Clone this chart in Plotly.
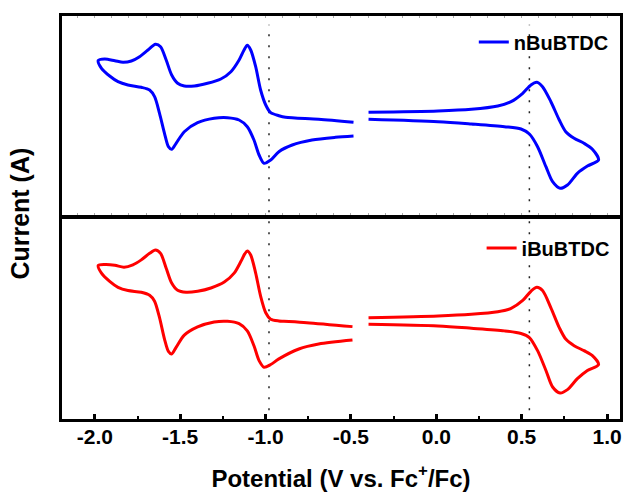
import plotly.graph_objects as go

# ---------------- data (arbitrary current units) -------------
# nBuBTDC, cathodic region (-0.5 -> -2.0 -> -0.5)
n_left_v = [-0.485, -0.689, -0.883, -0.922, -0.970, -0.999, -1.029, -1.058, -1.087, -1.107,
            -1.126, -1.155, -1.203, -1.262, -1.340, -1.417, -1.476, -1.515, -1.550, -1.582,
            -1.615, -1.645, -1.689, -1.738, -1.786, -1.835, -1.883, -1.942, -1.980,
            -1.961, -1.913, -1.864, -1.806, -1.728, -1.679, -1.650, -1.621, -1.592, -1.569,
            -1.550, -1.524, -1.476, -1.398, -1.301, -1.223, -1.155, -1.107, -1.068, -1.038,
            -1.009, -0.970, -0.922, -0.844, -0.728, -0.591, -0.485]
n_left_i = [-0.63, -0.33, -0.13, 0.03, 0.33, 1.10, 2.60, 4.93, 6.60, 7.07,
            6.60, 5.60, 4.43, 3.70, 3.27, 3.00, 3.00, 3.27, 4.10, 5.60,
            6.93, 7.17, 6.60, 5.93, 5.50, 5.37, 5.53, 5.70, 5.55,
            4.77, 4.00, 3.43, 3.10, 2.87, 2.60, 1.93, 0.27, -1.73, -3.07,
            -3.33, -2.73, -1.57, -0.67, -0.23, -0.17, -0.40, -1.07, -2.40, -3.90,
            -4.73, -4.40, -3.57, -2.90, -2.40, -2.13, -2.00]
# nBuBTDC, anodic region (-0.4 -> 0.95 -> -0.4)
n_right_v = [-0.397, 0.010, 0.205, 0.360, 0.438, 0.506, 0.554, 0.589, 0.622, 0.671,
             0.720, 0.758, 0.807, 0.865, 0.914, 0.950,
             0.885, 0.826, 0.768, 0.725, 0.681, 0.642, 0.593, 0.545, 0.496, 0.399,
             0.205, 0.010, -0.397]
n_right_i = [0.37, 0.50, 0.67, 1.00, 1.43, 2.27, 3.10, 3.37, 2.93, 1.43,
             -0.40, -1.57, -2.23, -2.73, -3.33, -4.40,
             -5.00, -5.73, -6.90, -7.23, -6.57, -5.07, -3.07, -1.80, -1.30, -1.07,
             -0.80, -0.57, -0.33]

# iBuBTDC, cathodic region
i_left_v = [-0.491, -0.759, -0.893, -0.922, -0.970, -0.999, -1.029, -1.058, -1.087, -1.107,
            -1.122, -1.145, -1.184, -1.242, -1.320, -1.398, -1.466, -1.515, -1.550, -1.582,
            -1.615, -1.645, -1.679, -1.728, -1.777, -1.829, -1.883, -1.942, -1.980,
            -1.961, -1.913, -1.864, -1.806, -1.728, -1.679, -1.650, -1.621, -1.592, -1.569,
            -1.550, -1.524, -1.476, -1.398, -1.301, -1.223, -1.155, -1.107, -1.068, -1.038,
            -1.009, -0.970, -0.922, -0.805, -0.689, -0.491]
i_left_i = [-0.57, -0.17, -0.03, 0.00, 0.17, 0.83, 2.50, 4.83, 6.67, 7.07,
            6.77, 6.00, 4.83, 3.93, 3.33, 3.00, 2.90, 3.10, 3.83, 5.33,
            6.83, 7.17, 6.83, 6.17, 5.67, 5.43, 5.63, 5.70, 5.60,
            4.83, 4.00, 3.40, 3.07, 2.90, 2.60, 2.00, 0.33, -1.83, -3.07,
            -3.33, -2.67, -1.43, -0.60, -0.10, -0.03, -0.27, -1.00, -2.50, -4.00,
            -4.67, -4.40, -3.83, -2.83, -2.33, -1.93]
# iBuBTDC, anodic region
i_right_v = [-0.397, 0.010, 0.205, 0.360, 0.438, 0.506, 0.554, 0.589, 0.622, 0.671,
             0.720, 0.758, 0.807, 0.865, 0.914, 0.950,
             0.885, 0.826, 0.768, 0.725, 0.681, 0.642, 0.593, 0.545, 0.496, 0.399,
             0.205, 0.010, -0.397]
i_right_i = [0.33, 0.50, 0.67, 0.93, 1.27, 2.07, 3.00, 3.40, 3.07, 1.33,
             -0.67, -1.83, -2.50, -3.00, -3.50, -4.40,
             -5.00, -5.83, -6.93, -7.27, -6.67, -5.00, -3.00, -1.67, -1.27, -1.00,
             -0.73, -0.50, -0.33]

ref_lines = [-0.98, 0.545]          # dotted reference potentials (V)
x_ticks = [-2.0, -1.5, -1.0, -0.5, 0.0, 0.5, 1.0]
x_tick_text = ["-2.0", "-1.5", "-1.0", "-0.5", "0.0", "0.5", "1.0"]
names = ["nBuBTDC", "iBuBTDC"]
colors = ["#0000FF", "#FF0000"]

# ---------------- figure ----------------
FONT = "Liberation Sans, Arial, sans-serif"
fig = go.Figure()

fig.add_trace(go.Scatter(
    x=n_left_v + [None] + n_right_v, y=n_left_i + [None] + n_right_i,
    mode="lines", name=names[0], xaxis="x", yaxis="y", legend="legend",
    line=dict(color=colors[0], width=3, shape="spline", smoothing=0.8),
    connectgaps=False))
fig.add_trace(go.Scatter(
    x=i_left_v + [None] + i_right_v, y=i_left_i + [None] + i_right_i,
    mode="lines", name=names[1], xaxis="x2", yaxis="y2", legend="legend2",
    line=dict(color=colors[1], width=3, shape="spline", smoothing=0.8),
    connectgaps=False))

for xv in ref_lines:
    fig.add_shape(type="line", xref="x2", yref="paper", x0=xv, x1=xv, y0=0.022, y1=0.978,
                  line=dict(color="#222222", width=1.5, dash="2px,9px"), layer="below")

xr = [-2.1922, 1.0757]
tick_font = dict(family=FONT, size=21, color="black", weight="bold")

fig.update_layout(
    width=627, height=492,
    margin=dict(l=62, r=4, t=16, b=73),
    paper_bgcolor="white", plot_bgcolor="white",
    showlegend=True,
    xaxis=dict(domain=[0, 1], anchor="y", range=xr, showgrid=False, zeroline=False,
               showticklabels=False, ticks="inside", dtick=0.1, tick0=0, ticklen=2,
               tickwidth=1, tickcolor="#aaaaaa",
               showline=True, linewidth=3, linecolor="black", mirror="ticks"),
    yaxis=dict(domain=[0.5062, 1], anchor="x", range=[-9.9, 10.0], showgrid=False,
               zeroline=False, showticklabels=False, ticks="",
               showline=True, linewidth=3, linecolor="black", mirror=True),
    xaxis2=dict(domain=[0, 1], anchor="y2", range=xr, matches="x", showgrid=False,
                zeroline=False, tickmode="array", tickvals=x_ticks, ticktext=x_tick_text,
                ticks="inside", ticklen=5, tickwidth=3, tickcolor="black",
                ticklabelstandoff=-3,
                minor=dict(ticks="inside", dtick=0.25, tick0=-2.0, ticklen=3, tickwidth=2,
                           tickcolor="black", showgrid=False),
                tickfont=tick_font,
                showline=True, linewidth=3, linecolor="black", mirror=True,
                title=dict(text="Potential (V vs. Fc<sup>+</sup>/Fc)",
                           font=dict(family=FONT, size=24, color="black", weight="bold"),
                           standoff=23)),
    yaxis2=dict(domain=[0, 0.4963], anchor="x2", range=[-9.9, 10.3], showgrid=False,
                zeroline=False, showticklabels=False, ticks="",
                showline=True, linewidth=3, linecolor="black", mirror=True),
    legend=dict(x=0.738, y=0.9355, xanchor="left", yanchor="middle",
                bgcolor="rgba(0,0,0,0)", borderwidth=0,
                font=dict(family=FONT, size=20, color="black", weight="bold")),
    legend2=dict(x=0.752, y=0.4243, xanchor="left", yanchor="middle",
                 bgcolor="rgba(0,0,0,0)", borderwidth=0,
                 font=dict(family=FONT, size=20, color="black", weight="bold")),
    annotations=[dict(text="Current (A)", xref="paper", yref="paper",
                      x=-0.075, y=0.51, xanchor="center", yanchor="middle",
                      textangle=-90, showarrow=False,
                      font=dict(family=FONT, size=25, color="black", weight="bold"))],
)

fig.write_html("out.html")
